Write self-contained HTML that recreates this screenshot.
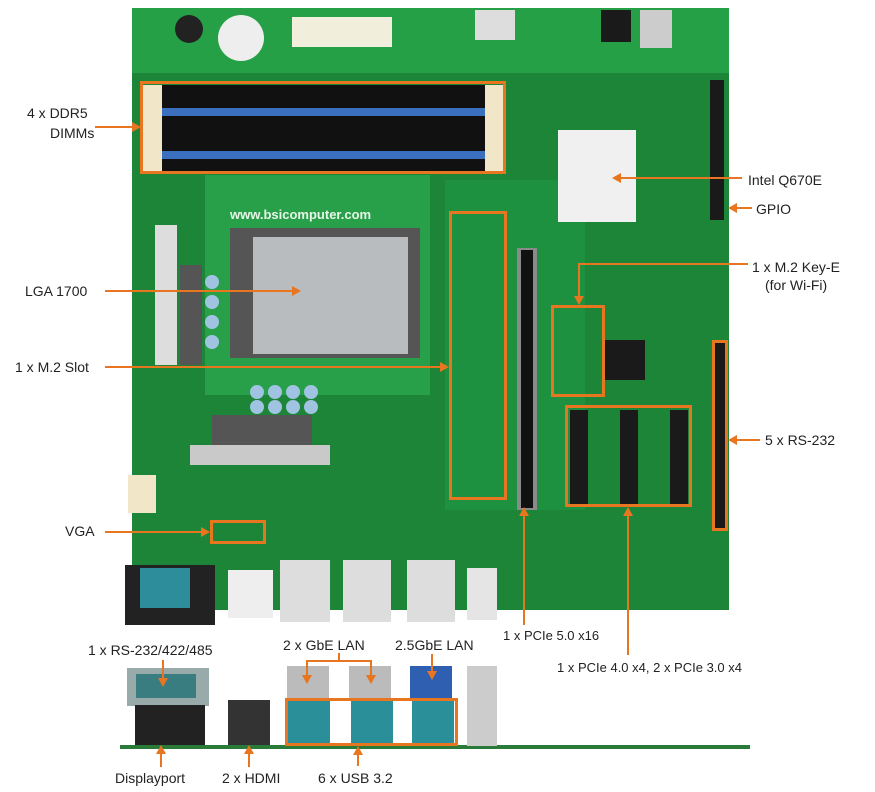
<!DOCTYPE html>
<html><head><style>
body{margin:0;width:875px;height:792px;background:#fff;position:relative;overflow:hidden;font-family:"Liberation Sans",Arial,sans-serif;}
div{position:absolute;box-sizing:border-box;}
.t{font-size:14px;color:#222;white-space:nowrap;}
.ob{border:3px solid #e8751f;}
.h{height:2px;background:#e8751f;}
.v{width:2px;background:#e8751f;}
.ar{width:0;height:0;border-top:5px solid transparent;border-bottom:5px solid transparent;}
.ar.r{border-left:9px solid #e8751f;}
.ar.l{border-right:9px solid #e8751f;}
.ad{width:0;height:0;border-left:5px solid transparent;border-right:5px solid transparent;border-top:9px solid #e8751f;}
.au{width:0;height:0;border-left:5px solid transparent;border-right:5px solid transparent;border-bottom:9px solid #e8751f;}
.cap{width:14px;height:14px;border-radius:50%;background:#9fc3e0;}
.chip{background:#1a1a1a;}
</style></head><body>
<!-- board -->
<div style="left:132px;top:8px;width:597px;height:602px;background:#1d8538;"></div>
<div style="left:132px;top:8px;width:597px;height:65px;background:#26a046;"></div>
<div style="left:205px;top:175px;width:225px;height:220px;background:#27a049;"></div>
<div style="left:445px;top:180px;width:140px;height:330px;background:#1e9140;"></div>
<!-- DIMMs -->
<div style="left:143px;top:85px;width:360px;height:86px;background:#111;"></div>
<div style="left:162px;top:108px;width:323px;height:8px;background:#3b6fc0;"></div>
<div style="left:162px;top:151px;width:323px;height:8px;background:#3b6fc0;"></div>
<div style="left:143px;top:85px;width:19px;height:86px;background:#f2e6c8;"></div>
<div style="left:485px;top:85px;width:18px;height:86px;background:#f2e6c8;"></div>
<!-- ATX power -->
<div style="left:292px;top:17px;width:100px;height:30px;background:#f2eedc;"></div>
<div style="left:218px;top:15px;width:46px;height:46px;border-radius:50%;background:#eee;"></div>
<div style="left:175px;top:15px;width:28px;height:28px;border-radius:50%;background:#222;"></div>
<div style="left:475px;top:10px;width:40px;height:30px;background:#ddd;"></div>
<!-- CPU -->
<div style="left:230px;top:228px;width:190px;height:130px;background:#555;"></div>
<div style="left:253px;top:237px;width:155px;height:117px;background:#b9bcbf;"></div>
<div style="left:230px;top:207px;text-align:left;width:200px;color:#e8f5e8;font-weight:bold;font-size:13px;">www.bsicomputer.com</div>
<!-- VRM -->
<div style="left:155px;top:225px;width:22px;height:140px;background:#ddd;"></div>
<div style="left:180px;top:265px;width:22px;height:100px;background:#555;"></div>
<div class="cap" style="left:205px;top:275px;"></div><div class="cap" style="left:205px;top:295px;"></div><div class="cap" style="left:205px;top:315px;"></div><div class="cap" style="left:205px;top:335px;"></div>
<div style="left:212px;top:415px;width:100px;height:30px;background:#555;"></div>
<div style="left:190px;top:445px;width:140px;height:20px;background:#c9c9c9;"></div>
<div class="cap" style="left:250px;top:385px;"></div><div class="cap" style="left:268px;top:385px;"></div><div class="cap" style="left:286px;top:385px;"></div><div class="cap" style="left:304px;top:385px;"></div>
<div class="cap" style="left:250px;top:400px;"></div><div class="cap" style="left:268px;top:400px;"></div><div class="cap" style="left:286px;top:400px;"></div><div class="cap" style="left:304px;top:400px;"></div>
<div style="left:128px;top:475px;width:28px;height:38px;background:#f2e6c8;"></div>
<!-- heatsink -->
<div style="left:558px;top:130px;width:78px;height:92px;background:#f0f0f0;"></div>
<div class="chip" style="left:605px;top:340px;width:40px;height:40px;"></div>
<div class="chip" style="left:710px;top:80px;width:14px;height:140px;"></div>
<!-- PCIe slots -->
<div style="left:517px;top:248px;width:20px;height:262px;background:#8a8a8a;"></div>
<div style="left:521px;top:250px;width:12px;height:258px;background:#111;"></div>
<div class="chip" style="left:570px;top:410px;width:18px;height:94px;"></div>
<div class="chip" style="left:620px;top:410px;width:18px;height:94px;"></div>
<div class="chip" style="left:670px;top:410px;width:18px;height:94px;"></div>
<div class="chip" style="left:601px;top:10px;width:30px;height:32px;"></div>
<div style="left:640px;top:10px;width:32px;height:38px;background:#ccc;"></div>
<div class="chip" style="left:714px;top:342px;width:12px;height:187px;"></div>
<!-- rear IO on board -->
<div style="left:125px;top:565px;width:90px;height:60px;background:#222;"></div>
<div style="left:140px;top:568px;width:50px;height:40px;background:#2e8d9a;"></div>
<div style="left:228px;top:570px;width:45px;height:48px;background:#eee;"></div>
<div style="left:280px;top:560px;width:50px;height:62px;background:#ddd;"></div>
<div style="left:343px;top:560px;width:48px;height:62px;background:#ddd;"></div>
<div style="left:407px;top:560px;width:48px;height:62px;background:#ddd;"></div>
<div style="left:467px;top:568px;width:30px;height:52px;background:#e5e5e5;"></div>
<!-- orange boxes -->
<div class="ob" style="left:140px;top:81px;width:366px;height:93px;"></div>
<div class="ob" style="left:449px;top:211px;width:58px;height:289px;"></div>
<div class="ob" style="left:551px;top:305px;width:54px;height:92px;"></div>
<div class="ob" style="left:565px;top:405px;width:127px;height:102px;"></div>
<div class="ob" style="left:712px;top:340px;width:16px;height:191px;"></div>
<div class="ob" style="left:210px;top:520px;width:56px;height:24px;"></div>
<!-- IO panel bottom -->
<div style="left:120px;top:745px;width:630px;height:4px;background:#2a7a3a;"></div>
<div style="left:127px;top:668px;width:82px;height:38px;background:#9aa;"></div>
<div style="left:136px;top:674px;width:60px;height:24px;background:#3a7d80;"></div>
<div style="left:135px;top:705px;width:70px;height:40px;background:#222;"></div>
<div style="left:228px;top:700px;width:42px;height:45px;background:#333;"></div>
<div style="left:287px;top:666px;width:42px;height:32px;background:#bbb;"></div>
<div style="left:349px;top:666px;width:42px;height:32px;background:#bbb;"></div>
<div style="left:410px;top:666px;width:42px;height:32px;background:#2f5fb0;"></div>
<div style="left:288px;top:700px;width:42px;height:44px;background:#2a8f99;"></div>
<div style="left:351px;top:700px;width:42px;height:44px;background:#2a8f99;"></div>
<div style="left:412px;top:700px;width:42px;height:44px;background:#2a8f99;"></div>
<div style="left:467px;top:666px;width:30px;height:80px;background:#ccc;"></div>
<div class="ob" style="left:285px;top:698px;width:173px;height:48px;"></div>
<!-- labels & lines -->
<div class="t" style="left:27px;top:105px;">4 x DDR5</div>
<div class="t" style="left:50px;top:125px;">DIMMs</div>
<div class="h" style="left:95px;top:126px;width:38px;"></div><div class="ar r" style="left:132px;top:122px;"></div>
<div class="t" style="left:748px;top:172px;">Intel Q670E</div>
<div class="h" style="left:620px;top:177px;width:122px;"></div><div class="ar l" style="left:612px;top:173px;"></div>
<div class="t" style="left:756px;top:201px;">GPIO</div>
<div class="h" style="left:736px;top:207px;width:16px;"></div><div class="ar l" style="left:728px;top:203px;"></div>
<div class="t" style="left:25px;top:283px;">LGA 1700</div>
<div class="h" style="left:105px;top:290px;width:188px;"></div><div class="ar r" style="left:292px;top:286px;"></div>
<div class="t" style="left:752px;top:259px;">1 x M.2 Key-E</div>
<div class="t" style="left:765px;top:277px;">(for Wi-Fi)</div>
<div class="h" style="left:578px;top:263px;width:170px;"></div>
<div class="v" style="left:578px;top:263px;height:35px;"></div><div class="ad" style="left:574px;top:296px;"></div>
<div class="t" style="left:15px;top:359px;">1 x M.2 Slot</div>
<div class="h" style="left:105px;top:366px;width:338px;"></div><div class="ar r" style="left:440px;top:362px;"></div>
<div class="t" style="left:765px;top:432px;">5 x RS-232</div>
<div class="h" style="left:736px;top:439px;width:24px;"></div><div class="ar l" style="left:728px;top:435px;"></div>
<div class="t" style="left:65px;top:523px;">VGA</div>
<div class="h" style="left:105px;top:531px;width:98px;"></div><div class="ar r" style="left:201px;top:527px;"></div>
<div class="t" style="left:503px;top:628px;font-size:13px;">1 x PCIe 5.0 x16</div>
<div class="v" style="left:523px;top:515px;height:110px;"></div><div class="au" style="left:519px;top:507px;"></div>
<div class="t" style="left:557px;top:660px;font-size:13px;">1 x PCIe 4.0 x4, 2 x PCIe 3.0 x4</div>
<div class="v" style="left:627px;top:515px;height:140px;"></div><div class="au" style="left:623px;top:507px;"></div>
<div class="t" style="left:88px;top:642px;">1 x RS-232/422/485</div>
<div class="v" style="left:162px;top:660px;height:20px;"></div><div class="ad" style="left:158px;top:678px;"></div>
<div class="t" style="left:283px;top:637px;">2 x GbE LAN</div>
<div class="h" style="left:306px;top:660px;width:66px;"></div>
<div class="v" style="left:306px;top:660px;height:16px;"></div><div class="ad" style="left:302px;top:675px;"></div>
<div class="v" style="left:370px;top:660px;height:16px;"></div><div class="ad" style="left:366px;top:675px;"></div>
<div class="v" style="left:338px;top:653px;height:8px;"></div>
<div class="t" style="left:395px;top:637px;">2.5GbE LAN</div>
<div class="v" style="left:431px;top:654px;height:18px;"></div><div class="ad" style="left:427px;top:671px;"></div>
<div class="t" style="left:115px;top:770px;">Displayport</div>
<div class="v" style="left:160px;top:752px;height:15px;"></div><div class="au" style="left:156px;top:745px;"></div>
<div class="t" style="left:222px;top:770px;">2 x HDMI</div>
<div class="v" style="left:248px;top:752px;height:15px;"></div><div class="au" style="left:244px;top:745px;"></div>
<div class="t" style="left:318px;top:770px;">6 x USB 3.2</div>
<div class="v" style="left:357px;top:753px;height:13px;"></div><div class="au" style="left:353px;top:746px;"></div>
</body></html>
